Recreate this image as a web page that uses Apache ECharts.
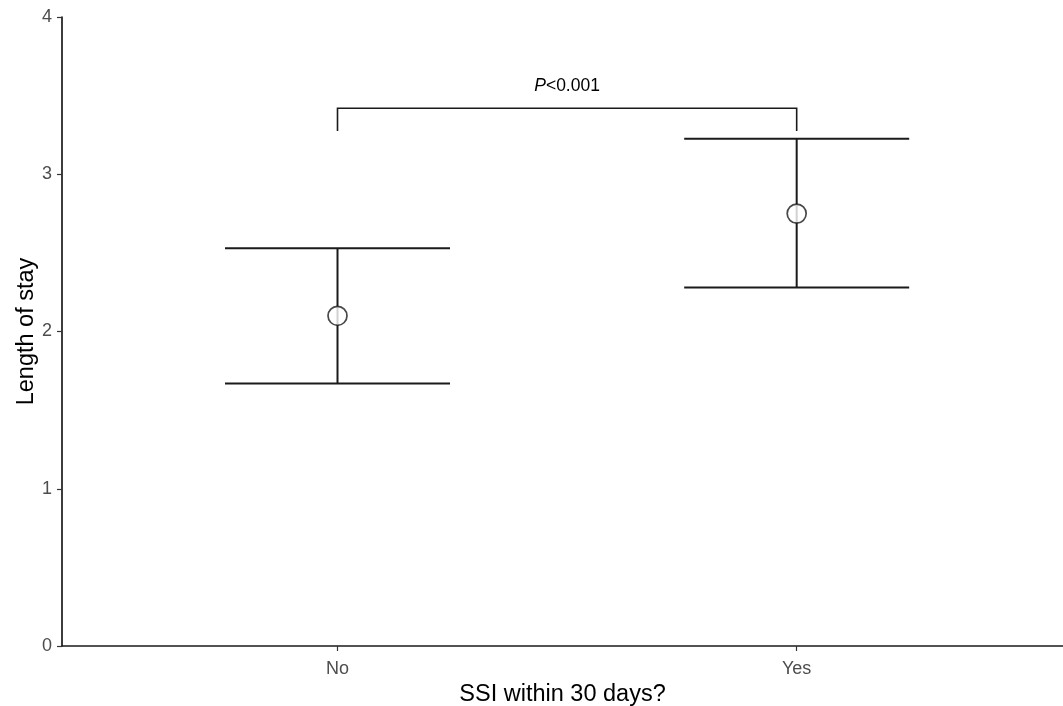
<!DOCTYPE html>
<html><head><meta charset="utf-8">
<script src="https://cdn.jsdelivr.net/npm/echarts@6/dist/echarts.min.js"></script>
<style>html,body{margin:0;padding:0;background:#fff}#c{width:1063px;height:706px}</style>
</head><body><div id="c"></div>
<script>
const categories = ['No', 'Yes'];
const catPositions = [1, 2];
const means = [2.10, 2.75];
const lowers = [1.67, 2.28];
const uppers = [2.53, 3.225];
const yTicks = [0, 1, 2, 3, 4];
const bracket = { from: 1, to: 2, top: 3.42, bottom: 3.275, label: '<0.001' };
const barHalfWidth = 0.245;

const chart = echarts.init(document.getElementById('c'), null, {renderer: 'canvas'});
const ink = '#1a1a1a';
chart.setOption({
  animation: false,
  backgroundColor: '#fff',
  grid: { left: 62, right: 0, top: 17, bottom: 60, containLabel: false, outerBoundsMode: 'none' },
  xAxis: {
    type: 'value', min: 0.4, max: 2.58,
    name: 'SSI within 30 days?', nameLocation: 'middle', nameGap: 37, nameMoveOverlap: false,
    nameTextStyle: { fontFamily: 'Liberation Sans', fontSize: 23.5, color: '#000' },
    axisLine: { show: true, onZero: false, lineStyle: { color: ink, width: 1.7 } },
    axisTick: { show: true, length: 5, customValues: catPositions, lineStyle: { color: '#333', width: 1.2 } },
    axisLabel: { show: true, customValues: catPositions, margin: 14,
      fontFamily: 'Liberation Sans', fontSize: 18, color: '#4d4d4d',
      formatter: v => categories[catPositions.indexOf(Math.round(v))] || '' },
    splitLine: { show: false }
  },
  yAxis: {
    type: 'value', min: 0, max: 4, interval: 1,
    name: 'Length of stay', nameLocation: 'middle', nameGap: 23, nameRotate: 90, nameMoveOverlap: false,
    nameTextStyle: { fontFamily: 'Liberation Sans', fontSize: 23.5, color: '#000' },
    axisLine: { show: true, lineStyle: { color: ink, width: 1.7 } },
    axisTick: { show: true, length: 5, lineStyle: { color: '#333', width: 1.2 } },
    axisLabel: { margin: 10, fontFamily: 'Liberation Sans', fontSize: 18, color: '#4d4d4d',
      formatter: v => yTicks.includes(v) ? String(v) : '' },
    splitLine: { show: false }
  },
  series: [
    {
      type: 'custom',
      data: catPositions.map((x, i) => [x, lowers[i], uppers[i]]),
      renderItem: function (params, api) {
        const x = api.value(0), lo = api.value(1), hi = api.value(2);
        const pLo = api.coord([x, lo]), pHi = api.coord([x, hi]);
        const l1 = api.coord([x - barHalfWidth, lo]), r1 = api.coord([x + barHalfWidth, lo]);
        const l2 = api.coord([x - barHalfWidth, hi]), r2 = api.coord([x + barHalfWidth, hi]);
        const st = { stroke: ink, lineWidth: 2, fill: null };
        return { type: 'group', children: [
          { type: 'line', shape: { x1: pLo[0], y1: pLo[1], x2: pHi[0], y2: pHi[1] }, style: st },
          { type: 'line', shape: { x1: l1[0], y1: l1[1], x2: r1[0], y2: r1[1] }, style: st },
          { type: 'line', shape: { x1: l2[0], y1: l2[1], x2: r2[0], y2: r2[1] }, style: st }
        ]};
      },
      z: 2
    },
    {
      type: 'scatter',
      data: catPositions.map((x, i) => [x, means[i]]),
      symbol: 'circle', symbolSize: 19,
      itemStyle: { color: '#fff', borderColor: ink, borderWidth: 1.7 },
      z: 3
    },
    {
      type: 'custom',
      data: [[bracket.from, bracket.to, bracket.top, bracket.bottom]],
      renderItem: function (params, api) {
        const a = api.value(0), b = api.value(1), t = api.value(2), bt = api.value(3);
        const p1 = api.coord([a, bt]), p2 = api.coord([a, t]), p3 = api.coord([b, t]), p4 = api.coord([b, bt]);
        return { type: 'group', children: [
          { type: 'polyline', shape: { points: [p1, p2, p3, p4] }, style: { stroke: ink, lineWidth: 1.6, fill: null } },
          { type: 'text', x: (p2[0] + p3[0]) / 2, y: p2[1] - 22,
            style: { text: '{i|P}{n|' + bracket.label + '}', align: 'center', verticalAlign: 'middle',
              rich: { i: { fontFamily: 'Liberation Sans', fontStyle: 'italic', fontSize: 17.5, fill: '#000' },
                      n: { fontFamily: 'Liberation Sans', fontSize: 17.5, fill: '#000' } } } }
        ]};
      },
      z: 2
    }
  ]
});
</script></body></html>
